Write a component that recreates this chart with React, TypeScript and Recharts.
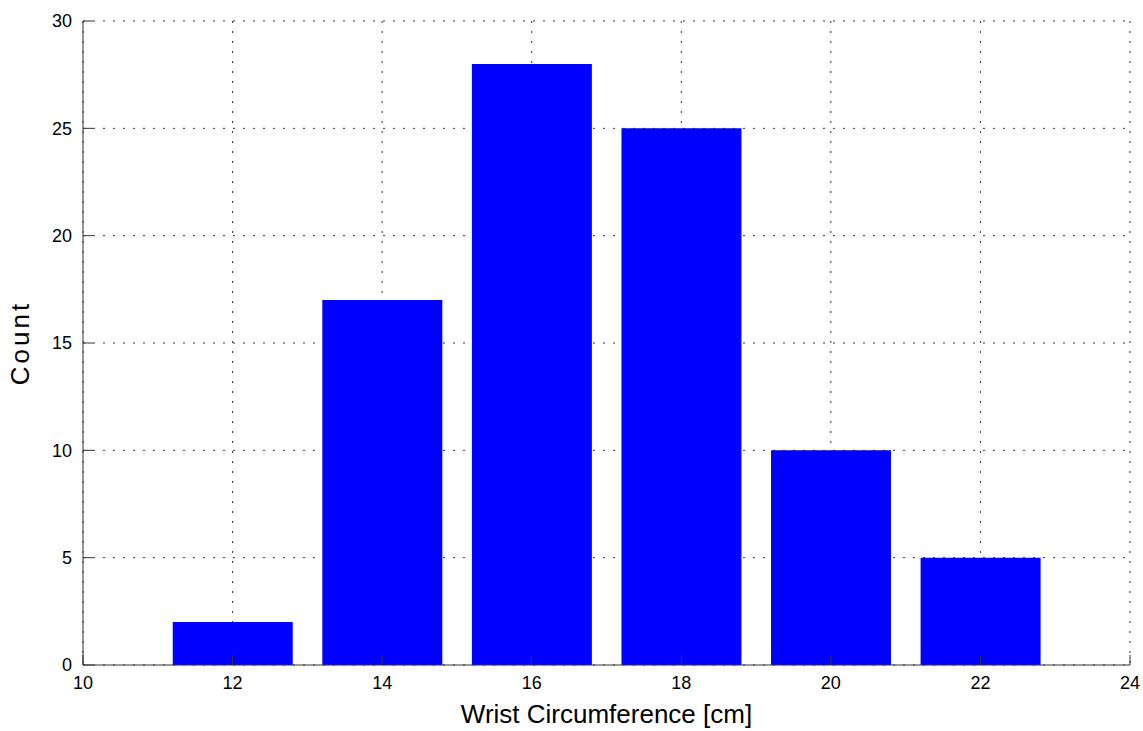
import { BarChart, Bar, XAxis, YAxis, CartesianGrid } from "recharts";

const centers = [12, 14, 16, 18, 20, 22];
const counts = [2, 17, 28, 25, 10, 5];
const xTicks = [10, 12, 14, 16, 18, 20, 22, 24];
const yTicks = [0, 5, 10, 15, 20, 25, 30];

const data = centers.map((c, i) => ({ x: c, count: counts[i] }));

const font = "'Liberation Sans', Arial, sans-serif";

const XLabel = (props: any) => {
  const vb = props.viewBox;
  return (
    <text x={vb.x + vb.width / 2} y={vb.y + vb.height - 8} textAnchor="middle" fontSize={26} fontFamily={font} fill="#000">
      Wrist Circumference [cm]
    </text>
  );
};

const YLabel = (props: any) => {
  const vb = props.viewBox;
  const cx = 20;
  const cy = vb.y + vb.height / 2;
  return (
    <text x={cx} y={cy} textAnchor="middle" dominantBaseline="central" transform={`rotate(-90 ${cx} ${cy})`} fontSize={26} letterSpacing={3} fontFamily={font} fill="#000">
      Count
    </text>
  );
};

export default function App() {
  const tickStyle = { fontSize: 18, fill: "#000", fontFamily: font };
  const axisStroke = "#333";
  return (
    <div style={{ position: "absolute", left: 0, top: 0 }}>
      <BarChart width={1143} height={731} data={data} barCategoryGap="10%" margin={{ top: 21, right: 13, bottom: 0, left: 0 }}>
        <CartesianGrid stroke="#333" strokeDasharray="2 8" horizontalValues={yTicks} verticalValues={xTicks} />
        <XAxis
          dataKey="x"
          type="number"
          domain={[10, 24]}
          ticks={xTicks}
          height={66}
          tickSize={-10}
          tickMargin={21}
          tick={tickStyle}
          stroke={axisStroke}
          interval={0}
          label={<XLabel />}
        />
        <XAxis
          xAxisId="top"
          orientation="top"
          dataKey="x"
          type="number"
          domain={[10, 24]}
          ticks={xTicks}
          height={0}
          tickSize={-10}
          tickFormatter={() => ""}
          stroke={axisStroke}
          interval={0}
        />
        <YAxis
          domain={[0, 30]}
          ticks={yTicks}
          width={83}
          tickSize={-10}
          tickMargin={21}
          tick={tickStyle}
          stroke={axisStroke}
          interval={0}
          label={<YLabel />}
        />
        <YAxis
          yAxisId="right"
          orientation="right"
          domain={[0, 30]}
          ticks={yTicks}
          width={0}
          tickSize={-10}
          tickFormatter={() => ""}
          stroke={axisStroke}
          interval={0}
        />
        <Bar dataKey="count" fill="#0000ff" isAnimationActive={false} />
      </BarChart>
    </div>
  );
}
